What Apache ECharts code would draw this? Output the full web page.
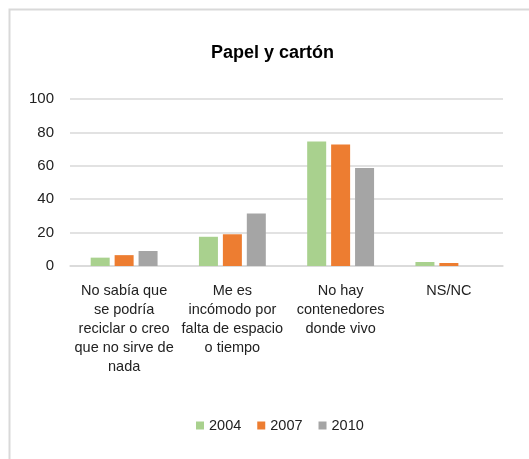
<!DOCTYPE html>
<html><head><meta charset="utf-8">
<script src="https://cdn.jsdelivr.net/npm/echarts@6/dist/echarts.min.js"></script>
<style>html,body{margin:0;padding:0;background:#fff}#c{width:529px;height:459px}</style>
</head><body><div id="c"></div>
<script>
const title = "Papel y cartón";
const categories = [
  "No sabía que\nse podría\nreciclar o creo\nque no sirve de\nnada",
  "Me es\nincómodo por\nfalta de espacio\no tiempo",
  "No hay\ncontenedores\ndonde vivo",
  "NS/NC"
];
const seriesNames = ["2004", "2007", "2010"];
const values2004 = [5, 17.5, 74.5, 2.4];
const values2007 = [6.5, 19, 72.7, 1.8];
const values2010 = [9, 31.5, 58.7, 0];
const yTicks = {min: 0, max: 100, interval: 20};
const colors = ["#A9D18E", "#ED7D31", "#A5A5A5"];

const chart = echarts.init(document.getElementById('c'), null, {renderer: 'canvas'});
const allValues = [values2004, values2007, values2010];
chart.setOption({
  animation: false,
  backgroundColor: '#fff',
  graphic: [{
    type: 'rect', silent: true, z: -1,
    shape: {x: 9.5, y: 9.5, width: 700, height: 700},
    style: {fill: 'none', stroke: '#d9d9d9', lineWidth: 2}
  }],
  title: {
    text: title, left: 206, top: 39,
    textStyle: {fontFamily: 'Liberation Sans', fontWeight: 'bold', fontSize: 18, color: '#000'}
  },
  legend: {
    data: seriesNames, bottom: 21, left: 191, itemWidth: 8, itemHeight: 8, itemGap: 16,
    icon: 'rect',
    textStyle: {fontFamily: 'Liberation Sans', fontSize: 14.5, color: '#222'}
  },
  grid: {left: 70, right: 26, top: 99, bottom: 193, containLabel: false},
  xAxis: {
    type: 'category', data: categories,
    axisTick: {show: false},
    axisLine: {show: true, lineStyle: {color: '#d9d9d9', width: 1.5}},
    axisLabel: {interval: 0, fontFamily: 'Liberation Sans', fontSize: 14.5, color: '#222', lineHeight: 19, margin: 15, verticalAlign: 'top'}
  },
  yAxis: {
    type: 'value', min: yTicks.min, max: yTicks.max, interval: yTicks.interval,
    axisLine: {show: false}, axisTick: {show: false},
    splitLine: {lineStyle: {color: '#d9d9d9', width: 1.5}},
    axisLabel: {fontFamily: 'Liberation Sans', fontSize: 15, color: '#222', margin: 16}
  },
  series: seriesNames.map((n, i) => ({
    name: n, type: 'bar', data: allValues[i], barWidth: 19, barGap: '26%',
    itemStyle: {color: colors[i]}
  }))
});
</script></body></html>
